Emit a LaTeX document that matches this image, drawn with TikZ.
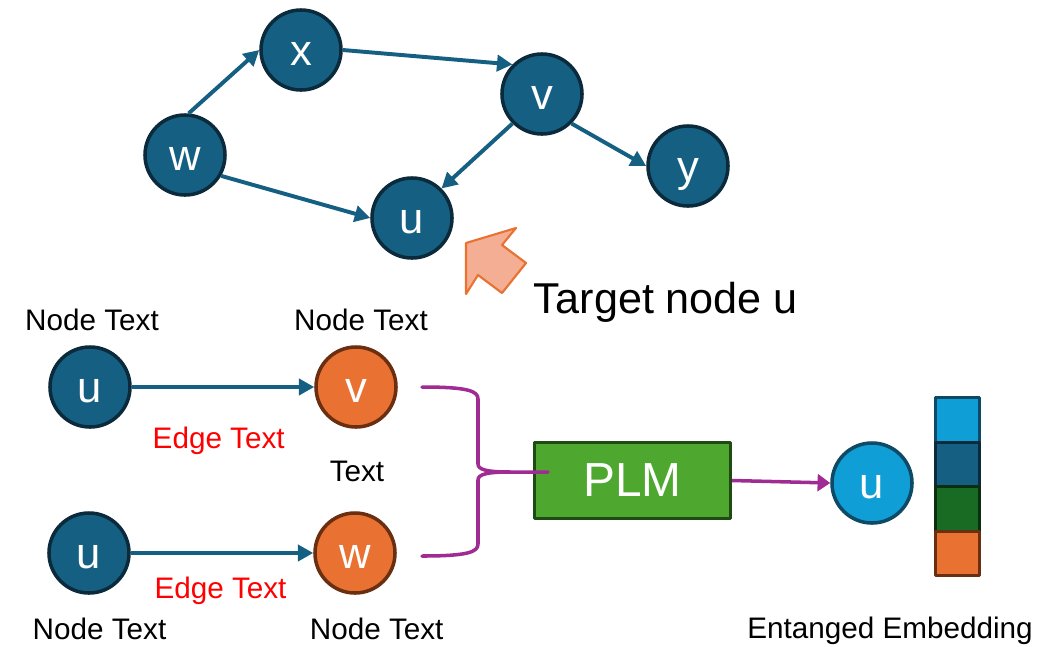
\documentclass[tikz,border=0pt]{standalone}
\usepackage{fontspec}
\setmainfont{Liberation Sans}
\usetikzlibrary{arrows.meta,positioning}
\definecolor{nodeblue}{HTML}{156082}
\definecolor{nodeline}{HTML}{0B2B3C}
\definecolor{nodeorange}{HTML}{E97132}
\definecolor{orangeline}{HTML}{6A2F10}
\definecolor{skyblue}{HTML}{0F9ED5}
\definecolor{skyline}{HTML}{0E4A66}
\definecolor{leafgreen}{HTML}{196B24}
\definecolor{leafline}{HTML}{0B2E10}
\definecolor{plmgreen}{HTML}{4EA72E}
\definecolor{plmline}{HTML}{1F4A14}
\definecolor{plmpurple}{HTML}{A02B93}
\definecolor{arrowfill}{HTML}{F3AE93}
\definecolor{edgered}{HTML}{FF0000}
\begin{document}
\begin{tikzpicture}[x=0.025cm, y=-0.025cm, line cap=round, line join=round,
	gnode/.style={circle, minimum size=2cm, inner sep=0pt, line width=2.5pt, draw=nodeline, fill=nodeblue, text=white, font=\fontsize{31}{31}\selectfont, text height=28pt, text depth=6.6pt},
	onode/.style={gnode, draw=orangeline, fill=nodeorange},
	link/.style={-{Triangle[length=11pt,width=11.5pt]}, line width=2.8pt, draw=nodeblue, line cap=butt},
	plink/.style={line width=2.5pt, draw=plmpurple},
	txt/.style={anchor=base, inner sep=0pt, font=\fontsize{21.1}{25}\selectfont},
	cell/.style={minimum width=1.1cm, minimum height=1.1125cm, inner sep=0pt, line width=2.2pt}]
	\useasboundingbox (0,0) rectangle (1039,646);
	% graph around the target node
	\node[gnode] (w) at (185,155) {w};
	\node[gnode] (x) at (301,50) {x};
	\node[gnode] (v) at (542,94) {v};
	\node[gnode] (u) at (412,218) {u};
	\node[gnode] (y) at (688,166) {y};
	\draw[link] (w.85) -- (x.west);
	\draw[link] (x.east) -- (v.north west);
	\draw[link] (v.south west) -- (u.north east);
	\draw[link] (w.-30) -- (u.west);
	\draw[link] (v.south east) -- (y.west);
	% pointer to u
	\draw[draw=nodeorange, line width=1.5pt, fill=arrowfill] (466,243) -- (516,228) -- (502,245) -- (526,263) -- (502,293) -- (478,275) -- (466,294) -- cycle;
	\node[txt, font=\fontsize{30.7}{35}\selectfont] (target) at (666,313.3) {Target node u};
	% two edges with their texts
	\node[gnode] (uA) at (90,387) {u};
	\node[onode] (vA) at (356,387) {v};
	\node[gnode] (uB) at (89,553) {u};
	\node[onode] (wB) at (355,553) {w};
	\draw[link] (uA.east) -- (vA.west);
	\draw[link] (uB.east) -- (wB.west);
	\node[txt] (ntA) at (92,330) {Node Text};
	\node[txt] (ntB) at (361,330) {Node Text};
	\node[txt, text=edgered] (etA) at (218.7,448.3) {Edge Text};
	\node[txt] (tx) at (357,481) {Text};
	\node[txt, text=edgered] (etB) at (220.5,598.3) {Edge Text};
	\node[txt] (ntC) at (99.5,639.3) {Node Text};
	\node[txt] (ntD) at (376.7,639.3) {Node Text};
	% language model and output embedding
	\node[draw=plmline, fill=plmgreen, line width=2.2pt, minimum width=4.9cm, minimum height=1.9cm, text=white, font=\fontsize{34}{37}\selectfont] (plm) at (632.5,480.5) {PLM};
	\coordinate (bA) at (422,387);
	\coordinate (bB) at (422,556);
	\coordinate (bT) at (548,472);
	\draw[plink] (bA) .. controls (468,387) and (478,391) .. (478,399) -- (478,464) .. controls (478,470) and (488,472) .. (510,472) -- (bT);
	\draw[plink] (bB) .. controls (468,556) and (478,552) .. (478,544) -- (478,480) .. controls (478,474) and (488,472) .. (510,472);
	\node[gnode, fill=skyblue, draw=skyline] (ue) at (872,483) {u};
	\draw[plink, line cap=butt, -{Triangle[length=9pt,width=12pt]}] (plm.east) -- (ue.west);
	\foreach \fc/\dc [count=\i] in {skyblue/skyline, nodeblue/nodeline, leafgreen/leafline, nodeorange/orangeline}
		\node[cell, fill=\fc, draw=\dc] (cell\i) at (957.5,{375.5+44.5*\i}) {};
	\node[txt] (emb) at (890,638.3) {Entanged Embedding};
\end{tikzpicture}
\end{document}
